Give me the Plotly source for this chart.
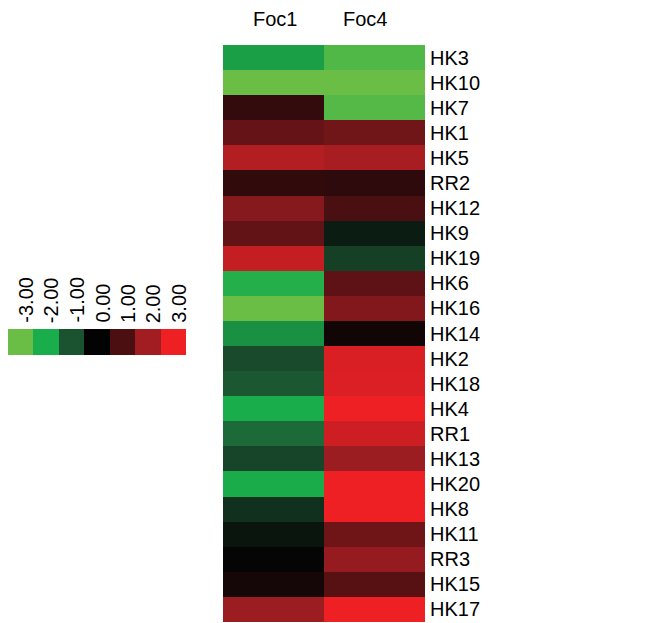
import plotly.graph_objects as go

# Gene expression (log2 fold change) per condition
genes = ["HK3", "HK10", "HK7", "HK1", "HK5", "RR2", "HK12", "HK9", "HK19", "HK6",
         "HK16", "HK14", "HK2", "HK18", "HK4", "RR1", "HK13", "HK20", "HK8", "HK11",
         "RR3", "HK15", "HK17"]
conditions = ["Foc1", "Foc4"]
foc1 = [-1.85, -3.00, 0.67, 1.30, 2.22, 0.64, 1.69, 1.27, 2.45, -2.14,
        -3.00, -1.68, -0.90, -1.07, -2.00, -1.26, -0.84, -1.98, -0.57, -0.23,
        -0.03, 0.25, 1.93]
foc4 = [-2.66, -3.00, -2.74, 1.43, 2.09, 0.61, 0.99, -0.33, -0.77, 1.22,
        1.64, 0.19, 2.73, 2.77, 3.00, 2.57, 1.93, 3.00, 3.00, 1.42,
        1.87, 1.14, 3.00]

# Key values and labels
key_values = [-3, -2, -1, 0, 1, 2, 3]
key_labels = ["-3.00", "-2.00", "-1.00", "0.00", "1.00", "2.00", "3.00"]
key_colors = ["#6abd45", "#1aad4b", "#1b5230", "#030303", "#4b0f11", "#a11d22", "#ee2024"]

zmin, zmax = -3, 3
colorscale = [[(v - zmin) / (zmax - zmin), c] for v, c in zip(key_values, key_colors)]

W, H = 648, 623
FONT = "Liberation Sans, Arial, sans-serif"
TXT = dict(size=20, family=FONT, color="black")

z = [[a, b] for a, b in zip(foc1, foc4)]

fig = go.Figure()
fig.add_trace(go.Heatmap(
    z=z, x=conditions, y=genes, colorscale=colorscale, zmin=zmin, zmax=zmax,
    showscale=False, xaxis="x", yaxis="y", xgap=0, ygap=0,
))
fig.add_trace(go.Heatmap(
    z=[key_values], x=key_labels, y=["key"], colorscale=colorscale, zmin=zmin, zmax=zmax,
    showscale=False, xaxis="x2", yaxis="y2",
))

hm_left, hm_right, hm_top, hm_bottom = 223, 425, 45, 622
key_left, key_right, key_top, key_bottom = 8, 186, 329, 355

# Rotated key labels, sitting just above each key cell (x = category index)
annotations = [
    dict(x=i, xref="x2", y=1 - key_top / H, yref="paper", text=lab,
         textangle=-90, showarrow=False, xanchor="center", yanchor="bottom",
         xshift=5, yshift=4, font=TXT)
    for i, lab in enumerate(key_labels)
]

# Column headers above the heatmap
header_shift = [1, -10]
annotations += [
    dict(x=i, xref="x", y=1 - hm_top / H, yref="paper", text=name,
         showarrow=False, xanchor="center", yanchor="bottom",
         xshift=dx, yshift=13, font=TXT)
    for i, (name, dx) in enumerate(zip(conditions, header_shift))
]

fig.update_layout(
    width=W, height=H,
    margin=dict(l=0, r=0, t=0, b=0),
    paper_bgcolor="white", plot_bgcolor="white",
    font=dict(family=FONT, size=20, color="black"),
    annotations=annotations,
    xaxis=dict(
        domain=[hm_left / W, hm_right / W], side="top", showgrid=False, zeroline=False,
        ticks="", showline=False, showticklabels=False,
        range=[-0.5, len(conditions) - 0.5], autorange=False, fixedrange=True,
    ),
    yaxis=dict(
        domain=[1 - hm_bottom / H, 1 - hm_top / H], side="right", autorange="reversed",
        showgrid=False, zeroline=False, ticks="", showline=False, ticklabelstandoff=4,
        tickfont=dict(size=20), anchor="x", fixedrange=True,
    ),
    xaxis2=dict(
        domain=[key_left / W, key_right / W], anchor="y2", showgrid=False,
        zeroline=False, ticks="", showline=False, showticklabels=False,
        range=[-0.5, len(key_labels) - 0.5], autorange=False, fixedrange=True,
    ),
    yaxis2=dict(
        domain=[1 - key_bottom / H, 1 - key_top / H], anchor="x2", showgrid=False,
        zeroline=False, showticklabels=False, ticks="", range=[-0.5, 0.5],
        autorange=False, fixedrange=True,
    ),
)

fig.write_html("out.html")
